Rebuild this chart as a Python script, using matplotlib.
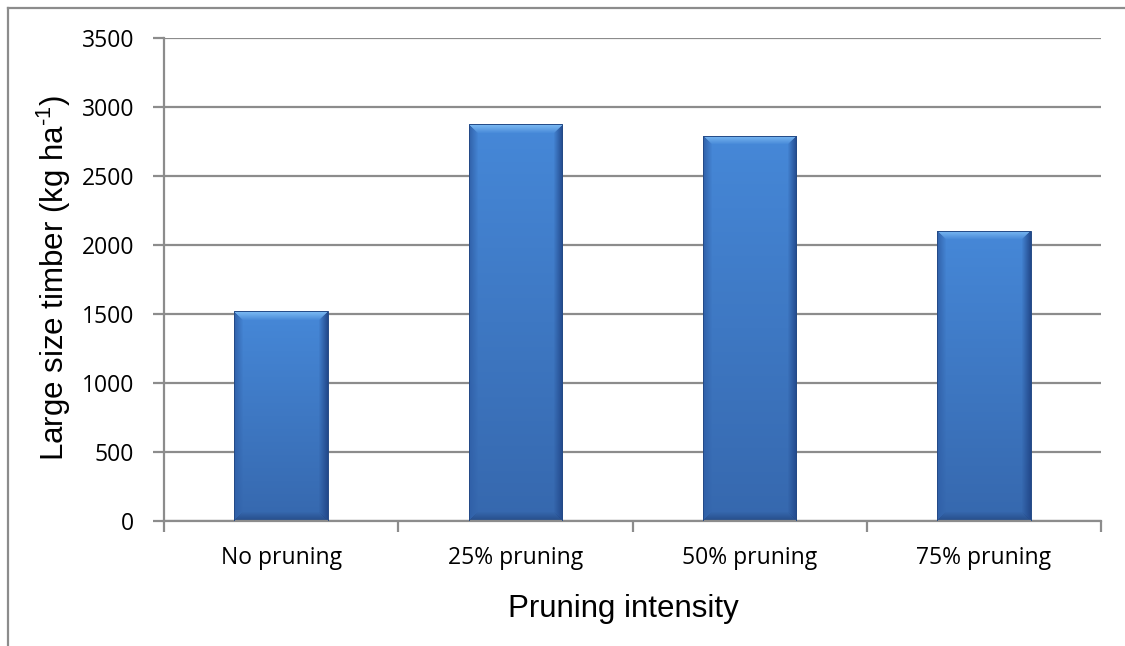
import numpy as np
import matplotlib
matplotlib.use("Agg")
import matplotlib.pyplot as plt
from matplotlib.lines import Line2D

# Data
categories = ["No pruning", "25% pruning", "50% pruning", "75% pruning"]
timber = [1520, 2875, 2790, 2105]
y_ticks = [0, 500, 1000, 1500, 2000, 2500, 3000, 3500]

W, H, DPI = 1125, 646, 100
fig = plt.figure(figsize=(W / DPI, H / DPI), dpi=DPI)
fig.patch.set_facecolor("white")

ax = fig.add_axes([164 / W, 1 - 521 / H, (1101 - 164) / W, (521 - 38) / H])
ax.set_xlim(-0.5, len(categories) - 0.5)
ax.set_ylim(0, 3500)

grey = "#8c8c8c"
ax.set_yticks(y_ticks)
ax.yaxis.grid(True, color=grey, linewidth=1.6)
ax.set_axisbelow(True)
for s in ("top", "right"):
    ax.spines[s].set_visible(False)
for s in ("left", "bottom"):
    ax.spines[s].set_color(grey)
    ax.spines[s].set_linewidth(1.6)

# category ticks sit between groups, labels in the middle
ax.set_xticks(np.arange(-0.5, len(categories), 1.0))
ax.set_xticklabels([])
ax.set_xticks(np.arange(len(categories)), minor=True)
ax.set_xticklabels(categories, minor=True, fontfamily="Open Sans", fontsize=16.5)
ax.tick_params(axis="x", which="major", direction="out", length=8, width=1.6, color=grey)
ax.tick_params(axis="x", which="minor", length=0, pad=18)
ax.tick_params(axis="y", direction="out", length=8, width=1.6, color=grey, pad=13.5)
for lab in ax.get_yticklabels():
    lab.set_fontfamily("Open Sans")
    lab.set_fontsize(16.5)

xl = ax.set_xlabel("Pruning intensity", fontfamily="Liberation Sans", fontsize=22.5)
xl.set_verticalalignment("baseline")
ax.xaxis.set_label_coords((623 - 164) / 937, (521 - 617) / 483)

yl = ax.set_ylabel("Large size timber (kg ha$^{\\mathregular{\u2010 1}}$)",
                   fontfamily="Liberation Sans", fontsize=22.5)
yl.set_rotation_mode("anchor")
yl.set_verticalalignment("baseline")
yl.set_horizontalalignment("center")
ax.yaxis.set_label_coords((64 - 164) / 937, (521 - 278) / 483)

bar_width = 0.4
bars = ax.bar(np.arange(len(categories)), timber, width=bar_width, color="#4a86d4",
              edgecolor="#244a86", linewidth=0.7, zorder=2)

# bevelled gradient fill for each bar
fig.canvas.draw()
top_c = np.array([128, 190, 245]) / 255
left_c = np.array([48, 96, 168]) / 255
right_c = np.array([34, 72, 138]) / 255
bot_c = np.array([38, 76, 136]) / 255
in_top = np.array([70, 136, 216]) / 255
in_bot = np.array([54, 104, 174]) / 255
bev = 9
for rect in bars:
    x0, y0 = rect.get_x(), rect.get_y()
    x1, y1 = x0 + rect.get_width(), y0 + rect.get_height()
    p0 = ax.transData.transform((x0, y0))
    p1 = ax.transData.transform((x1, y1))
    nw = int(round(p1[0] - p0[0]))
    nh = int(round(p1[1] - p0[1]))
    xx, yy = np.meshgrid(np.arange(nw), np.arange(nh))
    dl = xx
    dr = nw - 1 - xx
    dt = yy
    db = nh - 1 - yy
    t = (yy / max(nh - 1, 1))[..., None]
    img = in_top * (1 - t) + in_bot * t
    dmin = np.minimum(np.minimum(dl, dr), np.minimum(dt, db))
    for d, c in ((dl, left_c), (dr, right_c), (db, bot_c), (dt, top_c)):
        m = (d == dmin) & (d < bev)
        a = (1 - d / bev)[..., None] * 0.95
        blend = img * (1 - a) + c * a
        img[m] = blend[m]
    im = ax.imshow(img, extent=(x0, x1, y0, y1), origin="upper", aspect="auto",
                   interpolation="bilinear", zorder=2.5)
    im.set_clip_path(rect)
    rect.set_facecolor("none")
    rect.set_zorder(3)

ax.set_xlim(-0.5, len(categories) - 0.5)
ax.set_ylim(0, 3500)

# outer chart frame (left and top edges)
fig.add_artist(Line2D([7.5 / W, 7.5 / W], [0, 1 - 7.5 / H], color=grey, linewidth=1.6,
                      transform=fig.transFigure))
fig.add_artist(Line2D([7.5 / W, 1], [1 - 7.5 / H, 1 - 7.5 / H], color=grey, linewidth=1.6,
                      transform=fig.transFigure))

fig.savefig("out.png", dpi=DPI, facecolor="white")
